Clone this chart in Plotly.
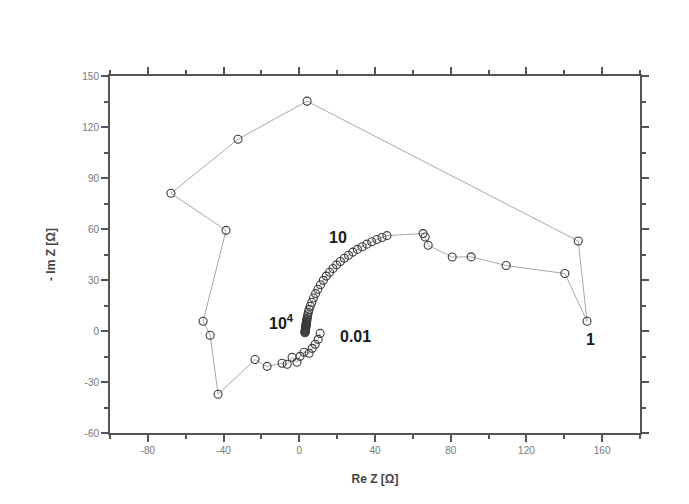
import plotly.graph_objects as go

# Impedance spectrum, ordered from high frequency (10^4) down to 0.01
re_z = [
    3.0, 3.05, 3.1, 3.15, 3.2, 3.25, 3.3, 3.35, 3.4, 3.45, 3.5, 3.55, 3.6,
    3.65, 3.7, 3.8, 3.9, 4.0, 4.1, 4.3, 4.5, 4.8, 5.2,
    5.8, 6.6, 7.5, 8.6, 9.8, 11.2, 12.7, 14.3, 16.0, 17.8, 19.7, 21.7,
    23.8, 26.0, 28.3, 30.7, 33.2, 35.7, 38.3, 41.0, 43.7, 46.3,
    65.4, 66.5, 68.1, 80.8, 90.8, 109.3, 140.3, 152.0,
    147.4, 4.1, -32.4, -67.8, -38.7, -50.8, -47.1, -42.9,
    -23.4, -17.0, -9.1, -6.4, -3.8, -1.2, 0.4, 2.5, 5.2, 6.8, 8.4, 10.0, 11.0,
]
neg_im_z = [
    -1.0, -0.6, -0.2, 0.2, 0.6, 1.0, 1.4, 1.8, 2.2, 2.6, 3.0, 3.4, 3.8,
    4.2, 4.6, 5.2, 5.8, 6.5, 7.3, 8.4, 9.6, 11.0, 12.6,
    14.6, 16.9, 19.4, 22.0, 24.6, 27.2, 29.8, 32.3, 34.6, 36.8, 38.9, 40.9,
    42.8, 44.6, 46.4, 48.0, 49.6, 51.1, 52.5, 53.8, 55.0, 56.1,
    57.3, 55.3, 50.4, 43.5, 43.6, 38.5, 33.8, 5.7,
    52.9, 135.2, 112.8, 81.0, 59.2, 5.7, -2.5, -37.2,
    -16.8, -20.8, -19.0, -19.6, -15.5, -18.4, -14.9, -12.5, -13.1, -10.2, -7.8, -4.9, -1.4,
]

# Frequency labels placed beside the curve
freq_text = ["10", "10<sup>4</sup>", "0.01", "1"]
freq_x = [20.5, -9.5, 29.5, 153.7]
freq_y = [55.0, 5.3, -3.1, -5.0]

x_ticks = [-80, -40, 0, 40, 80, 120, 160]
y_ticks = [-60, -30, 0, 30, 60, 90, 120, 150]

font_family = "Arial"

fig = go.Figure()
fig.add_trace(go.Scatter(
    x=re_z, y=neg_im_z, mode="lines+markers",
    line=dict(color="#a8a8a8", width=1),
    marker=dict(symbol="circle-open", size=8, color="#3a3a3a",
                line=dict(width=1.1, color="#3a3a3a")),
    showlegend=False, hoverinfo="skip",
))

for t, xv, yv in zip(freq_text, freq_x, freq_y):
    fig.add_annotation(x=xv, y=yv, xref="x", yref="y", text="<b>" + t + "</b>",
                       showarrow=False,
                       font=dict(family=font_family, size=16, color="#1a1a1a"))

axis_common = dict(
    showgrid=False, zeroline=False, showline=True, linecolor="#555555", linewidth=2,
    mirror="allticks", ticks="outside", ticklen=7, tickwidth=1.5, tickcolor="#555555",
    tickfont=dict(family=font_family, size=10, color="#777777"),
)

fig.update_xaxes(
    range=[-100, 180], tickvals=x_ticks, ticktext=[str(v) for v in x_ticks],
    minor=dict(tickvals=[-100, -60, -20, 20, 60, 100, 140, 180], ticks="outside",
               ticklen=4, tickwidth=1.5, tickcolor="#555555"),
    title=dict(text="<b>Re Z [Ω]</b>", standoff=20,
               font=dict(family=font_family, size=12, color="#444444")),
    **axis_common,
)
fig.update_yaxes(
    range=[-60, 150], tickvals=y_ticks, ticktext=[str(v) for v in y_ticks],
    minor=dict(tickvals=[-45, -15, 15, 45, 75, 105, 135], ticks="outside",
               ticklen=4, tickwidth=1.5, tickcolor="#555555"),
    title=dict(text="<b>- Im Z [Ω]</b>", standoff=24,
               font=dict(family=font_family, size=12, color="#444444")),
    **axis_common,
)

fig.update_layout(
    width=689, height=504,
    margin=dict(l=110, r=49, t=76, b=71),
    paper_bgcolor="white", plot_bgcolor="white",
    font=dict(family=font_family),
)

fig.write_html("out.html")
